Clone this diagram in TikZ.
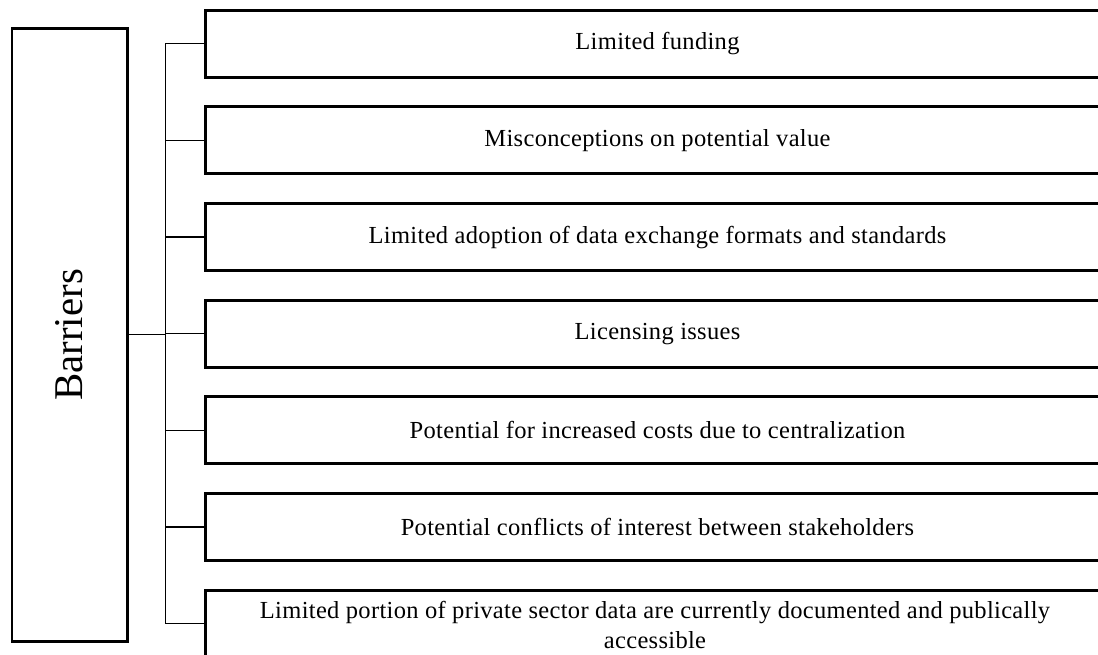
\documentclass[tikz,border=0pt]{standalone}
\usepackage{fontspec}
\setmainfont{Liberation Serif}
\newfontfamily\boxfont{Liberation Serif}[LetterSpace=1.3]
\begin{document}
\begin{tikzpicture}[x=1pt,y=-1pt,
  item/.style={draw, line width=3pt, minimum width=904pt, minimum height=66.8pt,
    anchor=west, inner sep=0pt, font=\boxfont\fontsize{24.5}{30}\selectfont},
  conn/.style={line width=1.2pt},
  bigbox/.style={draw, line width=2.7pt, minimum width=115.3pt, minimum height=613pt,
    inner sep=0pt, font=\fontsize{40.8}{48}\selectfont}]
\useasboundingbox (0,0) rectangle (1098,655);
\node[bigbox] (bar) at (69.65,334.8) {\rotatebox{90}{Barriers}};
\foreach \i/\t in {1/Limited funding,
                   2/Misconceptions on potential value,
                   3/Limited adoption of data exchange formats and standards,
                   4/Licensing issues,
                   5/Potential for increased costs due to centralization,
                   6/Potential conflicts of interest between stakeholders,
                   7/{}}
  \node[item] (b\i) at (204, {43.7+96.67*(\i-1)}) {\t};
\node[font=\boxfont\fontsize{24.5}{30}\selectfont, align=center, anchor=north, inner sep=0pt]
  (t7) at (655,601.5) {Limited portion of private sector data are currently documented and publically\\accessible};
\coordinate (spine) at (165.7,0);
\draw[conn] (b1.west) -- (spine |- b1.west) -- (spine |- b7.west) -- (b7.west);
\foreach \i in {2,...,6}
  \draw[conn] (b\i.west) -- (spine |- b\i.west);
\draw[conn] (bar.east) -- (spine |- bar.east);
\end{tikzpicture}
\end{document}
